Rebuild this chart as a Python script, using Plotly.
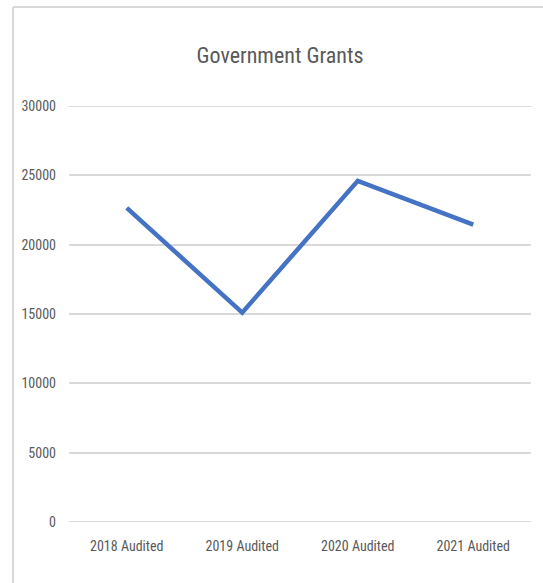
import plotly.graph_objects as go

# Government grants by audited year
years = ["2018 Audited", "2019 Audited", "2020 Audited", "2021 Audited"]
grants = [22650, 15100, 24600, 21450]
y_ticks = [0, 5000, 10000, 15000, 20000, 25000, 30000]

W, H = 543, 583
L, R, T, B = 69, 12, 106, 61
pw, ph = W - L - R, H - T - B

def px_x(px):
    return (px - L) / pw

def px_y(py):
    return (H - B - py) / ph

FONT = "Liberation Sans Narrow, Roboto Condensed, Arial Narrow, sans-serif"
GREY = "#595959"
GRID = "#D9D9D9"

fig = go.Figure(
    go.Scatter(
        x=years,
        y=grants,
        mode="lines",
        line=dict(color="#4472C4", width=4.5),
        hoverinfo="x+y",
    )
)

# edge gridlines (0 and 30000) drawn explicitly since they sit on the range limits
edge_lines = [
    dict(
        type="line", xref="paper", yref="y", layer="below",
        x0=0, x1=1, y0=v, y1=v,
        line=dict(color=GRID, width=2),
    )
    for v in (y_ticks[0], y_ticks[-1])
]

frame = [
    dict(
        type="line", xref="paper", yref="paper",
        x0=px_x(13), x1=px_x(W + 5), y0=px_y(7), y1=px_y(7),
        line=dict(color=GRID, width=2),
    ),
    dict(
        type="line", xref="paper", yref="paper",
        x0=px_x(13), x1=px_x(13), y0=px_y(7), y1=px_y(H + 5),
        line=dict(color=GRID, width=2),
    ),
]

fig.update_layout(
    width=W,
    height=H,
    margin=dict(l=L, r=R, t=T, b=B),
    paper_bgcolor="white",
    plot_bgcolor="white",
    showlegend=False,
    title=dict(
        text="Government Grants",
        x=px_x(280),
        xref="paper",
        xanchor="center",
        y=1 - 55 / H,
        yanchor="middle",
        font=dict(family=FONT, size=22, color=GREY),
    ),
    xaxis=dict(
        type="category",
        range=[-0.5, 3.5],
        showgrid=False,
        zeroline=False,
        showline=False,
        ticks="",
        ticklabelstandoff=14,
        tickfont=dict(family=FONT, size=14, color=GREY),
    ),
    yaxis=dict(
        range=[0, 30000],
        tickvals=y_ticks,
        ticktext=[str(v) for v in y_ticks],
        showgrid=True,
        gridcolor=GRID,
        gridwidth=2,
        zeroline=False,
        showline=False,
        ticks="",
        ticklabelstandoff=12,
        tickfont=dict(family=FONT, size=14, color=GREY),
    ),
    shapes=edge_lines + frame,
)

fig.write_html("out.html")
